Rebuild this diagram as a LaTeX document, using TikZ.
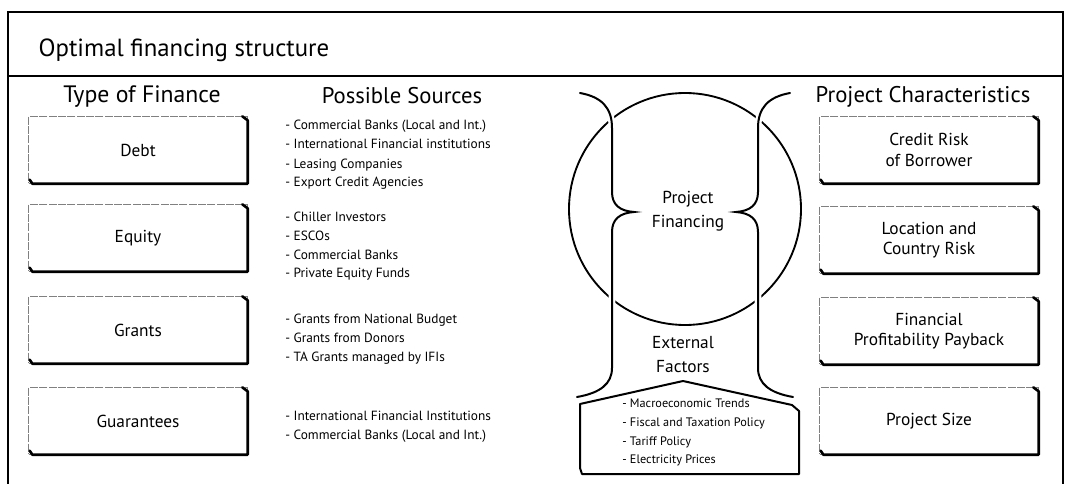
\documentclass[tikz,border=0pt]{standalone}
\usepackage{fontspec}
\setmainfont{PT Sans}

\begin{document}
\begin{tikzpicture}[x=0.75pt, y=-0.75pt,
    finbox/.style={draw=black!50, dash pattern=on 6pt off 1pt, line width=0.5pt,
        minimum width=164pt, minimum height=50pt, align=center,
        font=\fontsize{13}{15.5}\selectfont},
    boxedge/.style={draw=black, solid, line width=2pt, line cap=round, line join=round},
    heading/.style={font=\fontsize{17}{20}\selectfont},
    midtext/.style={align=center, font=\fontsize{13}{18}\selectfont},
    srcitem/.style={anchor=west, inner sep=0pt, text height=1.6ex, text depth=0.4ex,
        font=\fontsize{10}{12}\selectfont},
    extitem/.style={srcitem, font=\fontsize{9.2}{11}\selectfont},
    brace/.style={line width=1.5pt, line cap=round, preaction={draw=white, line width=5pt}}]

        \useasboundingbox (0,0) rectangle (1065,485);

        % Frame and header
        \draw[line width=0.9pt] (8,12) rectangle (1063,76);
        \draw[line width=0.9pt] (8,76) -- (8,484);
        \draw[line width=0.9pt] (1063,76) -- (1063,484);
        \node[anchor=west, font=\fontsize{18.6}{21}\selectfont] (title) at (34,50) {Optimal financing structure};

        % Column headings
        \node[heading, font=\fontsize{17.8}{20}\selectfont] (typehead) at (142,97) {Type of Finance};
        \node[heading] (srchead) at (402,96) {Possible Sources};
        \node[heading] (charhead) at (923,97) {Project Characteristics};

        % Type of finance
        \node[finbox] (debt) at (138,150) {Debt};
        \node[finbox] (equity) at (138,238) {Equity};
        \node[finbox] (grants) at (138,330) {Grants};
        \node[finbox] (guar) at (138,421) {Guarantees};

        % Project characteristics
        \node[finbox] (credit) at (929,150) {Credit Risk\\of Borrower};
        \node[finbox] (location) at (929,240) {Location and\\Country Risk};
        \node[finbox] (profit) at (929,331) {Financial\\Profitability Payback};
        \node[finbox] (size) at (929,421) {Project Size};

        % dark right and bottom edges
        \foreach \boxname in {debt,equity,grants,guar,credit,location,profit,size}{
            \draw[boxedge] ([xshift=-4pt]\boxname.north east) -- ([yshift=-3pt]\boxname.north east)
                -- (\boxname.south east) -- ([xshift=3pt]\boxname.south west)
                -- ([xshift=1pt,yshift=3pt]\boxname.south west);
        }

        % Possible sources
        \node[srcitem] (s1a) at (285,126) {- Commercial Banks (Local and Int.)};
        \node[srcitem] (s1b) at (285,145) {- International Financial institutions};
        \node[srcitem] (s1c) at (285,164) {- Leasing Companies};
        \node[srcitem] (s1d) at (285,182) {- Export Credit Agencies};

        \node[srcitem] (s2a) at (285,217) {- Chiller Investors};
        \node[srcitem] (s2b) at (285,236) {- ESCOs};
        \node[srcitem] (s2c) at (285,255) {- Commercial Banks};
        \node[srcitem] (s2d) at (285,273) {- Private Equity Funds};

        \node[srcitem] (s3a) at (285,319) {- Grants from National Budget};
        \node[srcitem] (s3b) at (285,338) {- Grants from Donors};
        \node[srcitem] (s3c) at (285,357) {- TA Grants managed by IFIs};

        \node[srcitem] (s4a) at (285,416) {- International Financial Institutions};
        \node[srcitem] (s4b) at (285,435) {- Commercial Banks (Local and Int.)};

        % Circle and braces
        \draw[line width=1.4pt] (685,209) circle [radius=87pt];
        \draw[brace] (580,93) .. controls (602,97) and (612,108) .. (612,128) -- (612,192)
            .. controls (612,205) and (620,211) .. (634,212)
            .. controls (620,213) and (612,219) .. (612,232) -- (612,368)
            .. controls (612,384) and (600,393) .. (577,397);
        \draw[brace] (790,93) .. controls (768,97) and (758,108) .. (758,128) -- (758,192)
            .. controls (758,205) and (750,211) .. (736,212)
            .. controls (750,213) and (758,219) .. (758,232) -- (758,368)
            .. controls (758,384) and (770,393) .. (793,397);

        \node[midtext] (projfin) at (688,211) {Project\\Financing};
        \node[midtext] (extfac) at (683,355) {External\\Factors};

        % External factors box
        \draw[line width=1.5pt, line join=round] (580,404) -- (683,381) -- (792,405) -- (799,411)
            -- (799,474) -- (582,474) -- (580,468) -- cycle;
        \node[extitem] (e1) at (622,403) {- Macroeconomic Trends};
        \node[extitem] (e2) at (622,422) {- Fiscal and Taxation Policy};
        \node[extitem] (e3) at (622,441) {- Tariff Policy};
        \node[extitem] (e4) at (622,459) {- Electricity Prices};

\end{tikzpicture}
\end{document}
